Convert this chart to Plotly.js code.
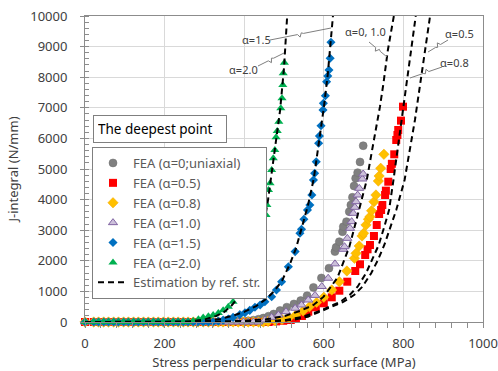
<!DOCTYPE html>
<html><head><meta charset="utf-8">
<script src="https://cdn.plot.ly/plotly-3.0.1.min.js"></script>
<style>html,body{margin:0;padding:0;background:#fff}</style>
</head><body>
<div id="chart" style="width:498px;height:371px"></div>
<script>
// ---- DATA ----
// common low-load steps where J is ~0 for every case
const baseStress = [0, 22, 34, 47, 59, 72, 84, 97, 109, 122, 134, 147, 159, 172, 184, 197, 209, 222, 234, 247, 259];
const baseJ      = [0, 0, 0, 0, 0, 0, 0, 0, 0, 0, 0, 0, 0, 0, 0, 0, 0, 0, 0, 0, 0];

const uniStress = [272, 284, 297, 310, 322, 335, 347, 360, 372, 385, 398, 410, 423, 436, 448, 461, 474, 490, 507, 525, 542, 558, 574, 594, 613, 628, 631, 639, 647, 649, 657, 664, 668, 672, 676, 680, 685, 691, 699];
const uniJ      = [0, 0, 0, 0, 0, 0, 0, 5, 10, 15, 20, 40, 60, 90, 130, 190, 260, 375, 485, 590, 700, 860, 1130, 1440, 1760, 2300, 2440, 2625, 2950, 3115, 3280, 3605, 3824, 4075, 4444, 4696, 4880, 5230, 5761];

const a05Stress = [272, 284, 297, 310, 322, 335, 347, 360, 372, 385, 398, 410, 423, 436, 448, 461, 480, 498, 517, 530, 545, 561, 580, 600, 620, 639, 659, 679, 691, 704, 710, 716, 726, 733, 739, 744, 747, 754, 756, 762, 768, 771, 777, 782, 785, 787, 794, 799];
const a05J      = [0, 0, 0, 0, 0, 0, 0, 0, 0, 0, 0, 0, 0, 0, 0, 0, 20, 40, 65, 120, 196, 337, 480, 611, 807, 1023, 1317, 1667, 1886, 2190, 2376, 2516, 2810, 3170, 3529, 3660, 3824, 4150, 4292, 4585, 5000, 5170, 5480, 5948, 6111, 6275, 6580, 7037];

const a08Stress = [272, 284, 297, 310, 322, 335, 347, 360, 372, 385, 398, 410, 423, 436, 448, 460, 478, 495, 512, 530, 548, 564, 582, 600, 620, 639, 658, 677, 681, 689, 696, 700, 706, 712, 716, 720, 726, 731, 737, 739, 743, 751];
const a08J      = [0, 0, 0, 0, 0, 0, 0, 0, 0, 0, 0, 0, 0, 0, 0, 15, 40, 80, 140, 230, 359, 500, 641, 807, 1046, 1317, 1667, 2081, 2245, 2484, 2810, 2898, 3170, 3356, 3442, 3638, 3932, 4150, 4608, 4771, 5023, 5480];

const a10Stress = [272, 284, 297, 310, 322, 335, 347, 360, 372, 385, 398, 410, 423, 436, 452, 469, 486, 505, 528, 544, 561, 578, 595, 611, 628, 649, 652, 659, 666, 670, 674, 678, 681, 685, 689, 697, 699];
const a10J      = [0, 0, 0, 0, 0, 0, 0, 0, 0, 0, 0, 0, 0, 0, 65, 153, 229, 337, 448, 556, 719, 870, 1160, 1430, 1900, 2376, 2461, 2734, 3061, 3279, 3552, 3748, 3932, 4150, 4369, 4673, 4837];

const a15Stress = [272, 284, 297, 310, 322, 335, 347, 360, 372, 389, 402, 414, 427, 440, 452, 469, 481, 494, 511, 528, 540, 544, 550, 559, 565, 570, 574, 577, 581, 587, 589, 593, 598, 599, 604, 607, 610, 613, 616, 618];
const a15J      = [0, 0, 0, 0, 10, 30, 60, 100, 150, 240, 300, 380, 480, 556, 663, 827, 1046, 1317, 1807, 2300, 2900, 3029, 3356, 3660, 3824, 4150, 4641, 4860, 5239, 5840, 6078, 6415, 6928, 7147, 7395, 7853, 8039, 8235, 8617, 9140];

const a20Stress = [272, 285, 297, 310, 322, 335, 347, 360, 372, 388, 455, 457, 461, 465, 469, 473, 477, 480, 483, 487, 492, 495, 497, 498, 501];
const a20J      = [30, 90, 150, 190, 225, 295, 380, 500, 663, 910, 3497, 3824, 4314, 4532, 4967, 5349, 5621, 6036, 6242, 6546, 6984, 7310, 7745, 8126, 8474];

// estimation by reference stress (dashed curves)
const est20Stress = [0, 200, 260, 300, 330, 350, 370, 390, 410, 430, 450, 460, 470, 480, 490, 500, 508];
const est20J      = [0, 0, 15, 80, 200, 330, 560, 900, 1500, 2300, 3200, 4000, 5000, 5900, 6900, 8300, 10000];
const est15Stress = [0, 250, 300, 340, 370, 400, 430, 455, 475, 495, 515, 530, 545, 560, 575, 590, 600, 610, 618, 623];
const est15J      = [0, 0, 30, 100, 200, 330, 520, 750, 1000, 1350, 1900, 2400, 3100, 3800, 4700, 6000, 7000, 8100, 9200, 10000];
const est00Stress = [0, 300, 400, 452, 502, 540, 574, 599, 634, 649, 664, 674, 687, 708, 720, 731, 741, 750, 761, 776];
const est00J      = [0, 0, 40, 82, 196, 360, 556, 820, 1440, 1930, 2450, 2940, 3560, 4640, 5520, 6275, 7030, 7810, 8890, 10000];
const est08Stress = [0, 430, 505, 548, 585, 615, 642, 665, 685, 706, 722, 738, 752, 764, 775, 783, 791.5, 801.5, 808, 815, 825, 831];
const est08J      = [0, 0, 65, 173, 337, 500, 663, 882, 1154, 1592, 2026, 2516, 3115, 3660, 4640, 5402, 6167, 7036, 7690, 8343, 9435, 10000];
const est05Stress = [0, 450, 520, 560, 590, 622, 650, 676, 697, 719, 736, 752, 768, 782, 803, 816.6, 829, 840, 850, 861, 867];
const est05J      = [0, 0, 65, 173, 337, 500, 663, 882, 1154, 1592, 2026, 2516, 3115, 3660, 4640, 5621, 6601, 7582, 8455, 9435, 10000];

const seriesNames = ["FEA (α=0;uniaxial)", "FEA (α=0.5)", "FEA (α=0.8)", "FEA (α=1.0)", "FEA (α=1.5)", "FEA (α=2.0)"];
const estName = "Estimation by ref. str.";
const curveLabels = ["α=1.5", "α=2.0", "α=0, 1.0", "α=0.5", "α=0.8"];

// ---- STYLE ----
const W = 498, H = 371, M = {l: 85, r: 15, t: 16, b: 49};
const PW = W - M.l - M.r, PH = H - M.t - M.b;
const XR = [0, 1000], YR = [0, 10000];
function dx(px) { return XR[0] + (px - M.l) / PW * (XR[1] - XR[0]); }
function dy(py) { return YR[0] + (M.t + PH - py) / PH * (YR[1] - YR[0]); }

function fea(name, xs, ys, marker, g) {
  return {type: 'scatter', mode: 'markers', name: name, x: xs, y: ys, legendgroup: g,
          marker: marker, cliponaxis: false, hoverinfo: 'skip'};
}
function est(xs, ys, show) {
  return {type: 'scatter', mode: 'lines', name: estName, x: xs, y: ys, showlegend: show, legendgroup: 'est',
          line: {color: '#000000', width: 2, dash: '6px,4px'}, hoverinfo: 'skip'};
}

const traces = [
  fea(seriesNames[0], baseStress.concat(uniStress), baseJ.concat(uniJ),
      {symbol: 'circle', size: 8, color: '#808080', line: {color: '#6e6e6e', width: 0.5}}, 'g0'),
  fea(seriesNames[1], baseStress.concat(a05Stress), baseJ.concat(a05J),
      {symbol: 'square', size: 8, color: '#ff0000', line: {width: 0}}, 'g1'),
  fea(seriesNames[2], baseStress.concat(a08Stress), baseJ.concat(a08J),
      {symbol: 'diamond', size: 8, color: '#ffc000', line: {color: '#f5a800', width: 0.5}}, 'g2'),
  fea(seriesNames[3], baseStress.concat(a10Stress), baseJ.concat(a10J),
      {symbol: 'triangle-up', size: 8, color: '#ccc0da', line: {color: '#8064a2', width: 1}}, 'g3'),
  fea(seriesNames[4], baseStress.concat(a15Stress), baseJ.concat(a15J),
      {symbol: 'diamond', size: 7, color: '#0070c0', line: {width: 0}}, 'g4'),
  fea(seriesNames[5], baseStress.concat(a20Stress), baseJ.concat(a20J),
      {symbol: 'triangle-up', size: 8, color: '#00b050', line: {width: 0}}, 'g5'),
  est(est00Stress, est00J, true),
  est(est05Stress, est05J, false),
  est(est08Stress, est08J, false),
  est(est15Stress, est15J, false),
  est(est20Stress, est20J, false)
];

// leader lines with a small break, as in the reference
function leader(p1, p2) {
  const vx = p2[0] - p1[0], vy = p2[1] - p1[1];
  const L = Math.hypot(vx, vy), ux = vx / L, uy = vy / L, nx = -uy, ny = ux;
  const mx = (p1[0] + p2[0]) / 2, my = (p1[1] + p2[1]) / 2;
  const pts = [p1, [mx - 3 * ux, my - 3 * uy], [mx - 1 * ux + 3 * nx, my - 1 * uy + 3 * ny],
               [mx + 1 * ux - 1 * nx, my + 1 * uy - 1 * ny], [mx + 3 * ux, my + 3 * uy], p2];
  const path = pts.map((p, i) => (i ? 'L' : 'M') + dx(p[0]).toFixed(2) + ',' + dy(p[1]).toFixed(2)).join(' ');
  return {type: 'path', xref: 'x', yref: 'y', path: path, line: {color: '#7f7f7f', width: 1}, layer: 'above'};
}
const labelPos = [[256, 39], [243, 69], [365, 31], [459, 33], [454, 62]];
const leaderEnds = [[[270, 40], [331, 28]], [[258, 66], [284, 53]], [[369, 42], [387, 57]],
                    [[448, 40], [428, 52]], [[442, 67], [410, 78]]];

const annotations = curveLabels.map((t, i) => ({
  text: t, x: dx(labelPos[i][0]), y: dy(labelPos[i][1]), xref: 'x', yref: 'y',
  showarrow: false, xanchor: 'center', yanchor: 'middle',
  font: {family: 'Noto Sans, sans-serif', size: 11, color: '#404040'}, bgcolor: 'rgba(255,255,255,0)'
}));
annotations.push({
  text: 'The deepest point', xref: 'paper', yref: 'paper',
  x: (93 - M.l) / PW, y: (M.t + PH - 129) / PH, xanchor: 'left', yanchor: 'middle',
  showarrow: false, align: 'left', width: 124, height: 18, borderpad: 4,
  bordercolor: '#7f7f7f', borderwidth: 1, bgcolor: '#ffffff',
  font: {family: 'Noto Sans, sans-serif', size: 13.5, color: '#000000'}
});

const tickFont = {family: 'Noto Sans, sans-serif', size: 13, color: '#404040'};
const layout = {
  width: W, height: H, margin: M, paper_bgcolor: '#ffffff', plot_bgcolor: '#ffffff',
  showlegend: true,
  legend: {x: (92 - M.l) / PW, y: (M.t + PH - 147) / PH, xanchor: 'left', yanchor: 'top',
           bgcolor: '#ffffff', bordercolor: '#7f7f7f', borderwidth: 1, tracegroupgap: 0,
           font: {family: 'Noto Sans, sans-serif', size: 13, color: '#595959'}},
  xaxis: {range: XR, dtick: 200, tick0: 0, showgrid: true, gridcolor: '#d9d9d9', gridwidth: 1,
          zeroline: false, showline: true, linecolor: '#8c8c8c', linewidth: 1, mirror: true,
          ticks: 'outside', ticklen: 5, tickcolor: '#8c8c8c', tickfont: tickFont, ticklabelstandoff: 4,
          tickformat: 'd',
          minor: {dtick: 40, ticks: 'outside', ticklen: 5, tickcolor: '#8c8c8c', showgrid: false},
          title: {text: 'Stress perpendicular to crack surface (MPa)', standoff: 8,
                  font: {family: 'Noto Sans, sans-serif', size: 13, color: '#404040'}}},
  yaxis: {range: YR, dtick: 1000, tick0: 0, showgrid: true, gridcolor: '#d9d9d9', gridwidth: 1,
          zeroline: false, showline: true, linecolor: '#8c8c8c', linewidth: 1, mirror: true,
          ticks: 'outside', ticklen: 4, tickcolor: '#8c8c8c', tickfont: tickFont, ticklabelstandoff: 10,
          tickformat: 'd',
          minor: {dtick: 200, ticks: 'inside', ticklen: 4, tickcolor: '#8c8c8c', showgrid: false},
          title: {text: 'J-integral (N/mm)', standoff: 8,
                  font: {family: 'Noto Sans, sans-serif', size: 13, color: '#404040'}}},
  shapes: leaderEnds.map(e => leader(e[0], e[1])),
  annotations: annotations
};

Plotly.newPlot('chart', traces, layout, {staticPlot: true, displayModeBar: false});
</script>
</body></html>
